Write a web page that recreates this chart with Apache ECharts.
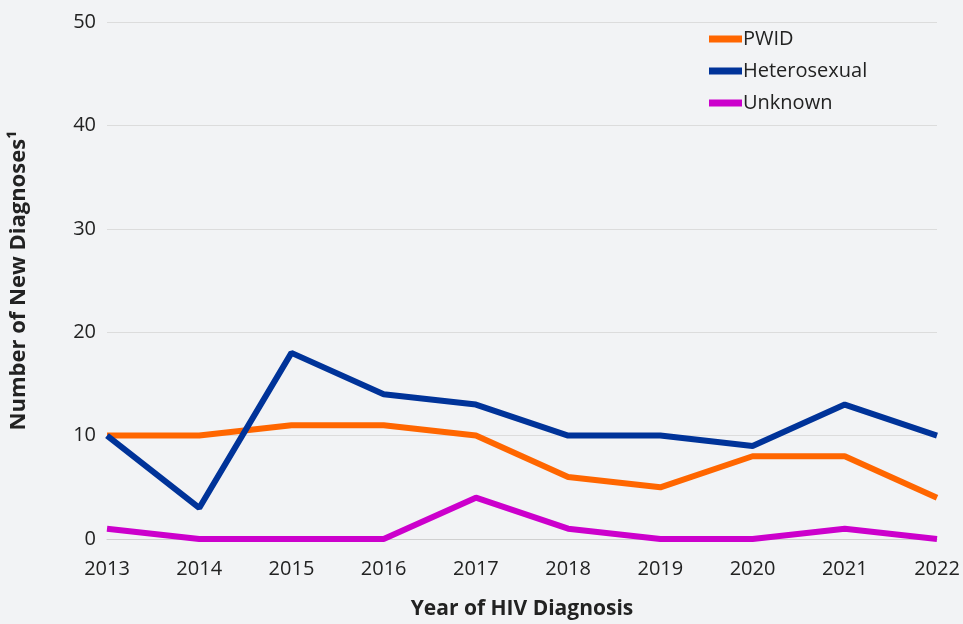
<!DOCTYPE html>
<html><head><meta charset="utf-8">
<script src="https://cdn.jsdelivr.net/npm/echarts@6/dist/echarts.min.js"></script>
<style>html,body{margin:0;padding:0;background:#f2f3f5}#c{width:963px;height:624px}</style>
</head><body><div id="c"></div>
<script>
const years = ['2013','2014','2015','2016','2017','2018','2019','2020','2021','2022'];
const pwid = [10,10,11,11,10,6,5,8,8,4];
const hetero = [10,3,18,14,13,10,10,9,13,10];
const unknown = [1,0,0,0,4,1,0,0,1,0];
const yTicks = [0,10,20,30,40,50];

const chart = echarts.init(document.getElementById('c'));
const font = '"Open Sans", sans-serif';
chart.setOption({
  backgroundColor: '#f2f3f5',
  animation: false,
  grid: {left: 107, right: 26, top: 22, bottom: 85, outerBoundsMode: 'none', containLabel: false},
  legend: {
    orient: 'vertical', left: 704, top: 24, itemWidth: 33, itemHeight: 7, itemGap: 12,
    icon: 'rect',
    textStyle: {fontFamily: font, fontSize: 20, color: '#222', padding: [0,0,0,-4]},
    data: ['PWID','Heterosexual','Unknown']
  },
  xAxis: {
    type: 'category', data: years, boundaryGap: false,
    name: 'Year of HIV Diagnosis', nameLocation: 'middle', nameGap: 60,
    nameTextStyle: {fontFamily: font, fontSize: 21, fontWeight: 'bold', color: '#222'},
    axisLine: {lineStyle: {color: '#d0d0d0'}},
    axisTick: {show: false},
    axisLabel: {fontFamily: font, fontSize: 20, color: '#222', margin: 20}
  },
  yAxis: {
    type: 'value', min: yTicks[0], max: yTicks[yTicks.length-1], interval: 10,
    name: 'Number of New Diagnoses¹', nameLocation: 'middle', nameGap: 77,
    nameTextStyle: {fontFamily: font, fontSize: 22, fontWeight: 'bold', color: '#222'},
    axisLine: {show: false}, axisTick: {show: false},
    axisLabel: {fontFamily: font, fontSize: 20, color: '#222', margin: 11},
    splitLine: {lineStyle: {color: '#dcdcdc'}}
  },
  series: [
    {name: 'PWID', type: 'line', data: pwid, symbol: 'none', lineStyle: {width: 6, color: '#ff6600'}, itemStyle: {color: '#ff6600'}, z: 3},
    {name: 'Heterosexual', type: 'line', data: hetero, symbol: 'none', lineStyle: {width: 6, color: '#003399'}, itemStyle: {color: '#003399'}, z: 4},
    {name: 'Unknown', type: 'line', data: unknown, symbol: 'none', lineStyle: {width: 6, color: '#cc00cc'}, itemStyle: {color: '#cc00cc'}, z: 2}
  ]
});
</script></body></html>
